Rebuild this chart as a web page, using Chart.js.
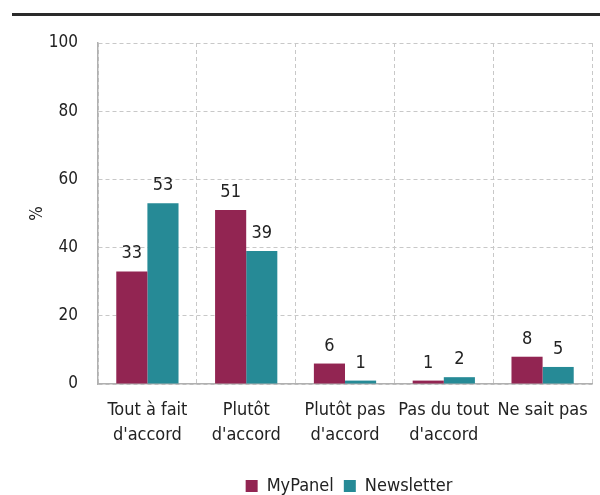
<!DOCTYPE html>
<html>
<head>
<meta charset="utf-8">
<script src="https://cdn.jsdelivr.net/npm/chart.js@4/dist/chart.umd.min.js"></script>
<style>
html,body{margin:0;padding:0;background:#fff;}
#wrap{position:relative;width:600px;height:495px;}
#topline{position:absolute;left:12px;top:13px;width:588px;height:3px;background:#2a2a2a;}
canvas{position:absolute;left:0;top:0;}
</style>
</head>
<body>
<div id="wrap">
<canvas id="c" width="600" height="495"></canvas>
<div id="topline"></div>
</div>
<script>
const categories = [["Tout à fait","d'accord"],["Plutôt","d'accord"],["Plutôt pas","d'accord"],["Pas du tout","d'accord"],["Ne sait pas"]];
const myPanel = [33, 51, 6, 1, 8];
const newsletter = [53, 39, 1, 2, 5];
const yTicks = [0, 20, 40, 60, 80, 100];

const FONT = "'DejaVu Sans Condensed', 'DejaVu Sans', sans-serif";

const valueLabels = {
  id: 'valueLabels',
  afterDatasetsDraw(chart) {
    const ctx = chart.ctx;
    ctx.save();
    ctx.font = "18px " + FONT;
    ctx.fillStyle = '#222';
    ctx.textAlign = 'center';
    ctx.textBaseline = 'alphabetic';
    chart.data.datasets.forEach((ds, i) => {
      const meta = chart.getDatasetMeta(i);
      meta.data.forEach((bar, j) => {
        ctx.fillText(String(ds.data[j]), bar.x, bar.y - 13);
      });
    });
    ctx.restore();
  }
};

const legendShift = {
  id: 'legendShift',
  afterLayout(chart) {
    const lg = chart.legend;
    if (!lg) return;
    lg.left += 53; lg.right += 53;
    lg.top += 10; lg.bottom += 10;
  }
};

new Chart(document.getElementById('c'), {
  type: 'bar',
  data: {
    labels: categories,
    datasets: [
      { label: 'MyPanel', data: myPanel, backgroundColor: '#922552', borderWidth: 0 },
      { label: 'Newsletter', data: newsletter, backgroundColor: '#268a96', borderWidth: 0 }
    ]
  },
  options: {
    responsive: false,
    animation: false,
    layout: { padding: { left: 0, right: 8, top: 43, bottom: 0 } },
    plugins: {
      legend: {
        position: 'bottom',
        labels: {
          font: { size: 18, family: FONT },
          color: '#222',
          boxWidth: 12,
          boxHeight: 12,
          usePointStyle: true,
          pointStyle: 'rect',
          padding: 10
        }
      },
      tooltip: { enabled: false }
    },
    datasets: { bar: { categoryPercentage: 0.63, barPercentage: 1.0 } },
    scales: {
      x: {
        grid: { offset: true, color: '#c8c8c8', drawTicks: false },
        border: { display: true, color: '#b0b0b0', width: 1.5, dash: [4,3] },
        ticks: { font: { size: 18, family: FONT, lineHeight: 1.39 }, color: '#222', padding: 14, maxRotation: 0, autoSkip: false },
        afterFit(s) { s.height = 73; s.paddingRight = 0; s.paddingLeft = 0; }
      },
      y: {
        min: 0, max: 100,
        afterBuildTicks(s) { s.ticks = yTicks.map(v => ({ value: v })); },
        grid: { color: '#c8c8c8', drawTicks: false },
        border: { display: true, color: '#b0b0b0', width: 1.5, dash: [4,3] },
        ticks: { font: { size: 17, family: FONT }, color: '#222', padding: 20 },
        title: { display: true, text: '%', font: { size: 17, family: FONT }, color: '#222', padding: { top: 27, bottom: 0 } },
        afterFit(s) { s.width = 98; }
      }
    }
  },
  plugins: [valueLabels, legendShift]
});
</script>
</body>
</html>
